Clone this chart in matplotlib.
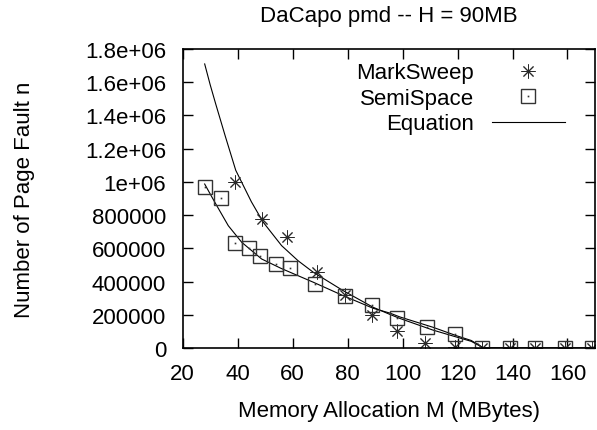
# ==========================================================
# DaCapo pmd page faults vs memory allocation (gnuplot look)
# ==========================================================

import matplotlib
matplotlib.use("Agg")
import matplotlib.pyplot as plt
from matplotlib.ticker import FuncFormatter

plt.rcParams["font.family"] = ["Liberation Sans", "DejaVu Sans"]

# ==========================================================
# Data
# ==========================================================

ms_mem = [39, 49, 58, 69, 79, 89, 98, 108, 119, 129, 139, 148, 159, 169]
ms_faults = [997000, 776000, 666000, 456000, 317000, 197000, 104000,
             28000, 8000, 0, 0, 0, 0, 0]

ss_mem = [28, 34, 39, 44, 48, 54, 59, 68, 79, 89, 98, 109, 119,
          129, 139, 148, 159, 169]
ss_faults = [969000, 904000, 632000, 601000, 551000, 504000, 484000,
             385000, 314000, 257000, 183000, 125000, 84000,
             0, 0, 0, 0, 0]

# equation curves, sampled along the drawn lines
eq_ms_mem = [28, 30, 32, 35.5, 39.3, 45, 49.3, 56, 62, 67.5, 78.4,
             89.3, 95.4, 99, 111, 120, 125, 129.5, 170]
eq_ms_faults = [1710000, 1585000, 1470000, 1275000, 1070000, 880000,
                757000, 616000, 525000, 456000, 345000, 245000, 202000,
                178000, 108000, 64000, 40000, 0, 0]

eq_ss_mem = [28, 31.7, 36.6, 41.5, 48.7, 55.7, 62, 67.5, 78.4, 89.3,
             95.4, 99, 111, 119.6, 125, 129.5, 170]
eq_ss_faults = [987000, 877000, 736000, 636000, 536000, 480000, 435000,
                396000, 315000, 239000, 210000, 187000, 125000, 74000,
                45000, 0, 0]

x_ticks = [20, 40, 60, 80, 100, 120, 140, 160]
y_ticks = [0, 200000, 400000, 600000, 800000, 1000000, 1200000,
           1400000, 1600000, 1800000]

# ==========================================================
# Figure
# ==========================================================

fs = 16

fig = plt.figure(figsize=(5.97, 4.31), dpi=100)
ax = fig.add_axes([0.306, 0.1903, 0.6906, 0.6937])

eq_line, = ax.plot(eq_ms_mem, eq_ms_faults, color="black", lw=0.8)
ax.plot(eq_ss_mem, eq_ss_faults, color="black", lw=0.8)

ms_pts, = ax.plot(ms_mem, ms_faults, ls="none", marker=(8, 2, 0),
                  ms=10, mew=0.7, color="#2a2a2a")
ss_pts, = ax.plot(ss_mem, ss_faults, ls="none", marker="s", ms=10,
                  mew=1.0, mfc="none", mec="#333333")
ss_dot, = ax.plot(ss_mem, ss_faults, ls="none", marker="s", ms=1.2,
                  mew=0, color="#333333")

ax.set_xlim(20, 170)
ax.set_ylim(0, 1800000)
ax.set_xticks(x_ticks)
ax.set_yticks(y_ticks)
ax.yaxis.set_major_formatter(FuncFormatter(lambda v, p: "%g" % v))

ax.tick_params(direction="in", length=7.2, width=1, top=True, right=True,
               labelsize=fs, colors="black")
ax.tick_params(axis="y", pad=12)
ax.tick_params(axis="x", pad=11)
for s in ax.spines.values():
    s.set_linewidth(1.2)

ax.set_title("DaCapo pmd -- H = 90MB", fontsize=fs, pad=20)
ax.set_xlabel("Memory Allocation M (MBytes)", fontsize=fs, labelpad=11)
ax.set_ylabel("Number of Page Fault n", fontsize=fs, labelpad=36)

leg = ax.legend([ms_pts, (ss_pts, ss_dot), eq_line],
                ["MarkSweep", "SemiSpace", "Equation"],
                loc="upper right", bbox_to_anchor=(0.927, 0.955),
                frameon=False, markerfirst=False, fontsize=fs,
                handlelength=3.3, handletextpad=0.8, labelspacing=0.2,
                borderpad=0, borderaxespad=0)

plt.savefig("out.png", dpi=100)
